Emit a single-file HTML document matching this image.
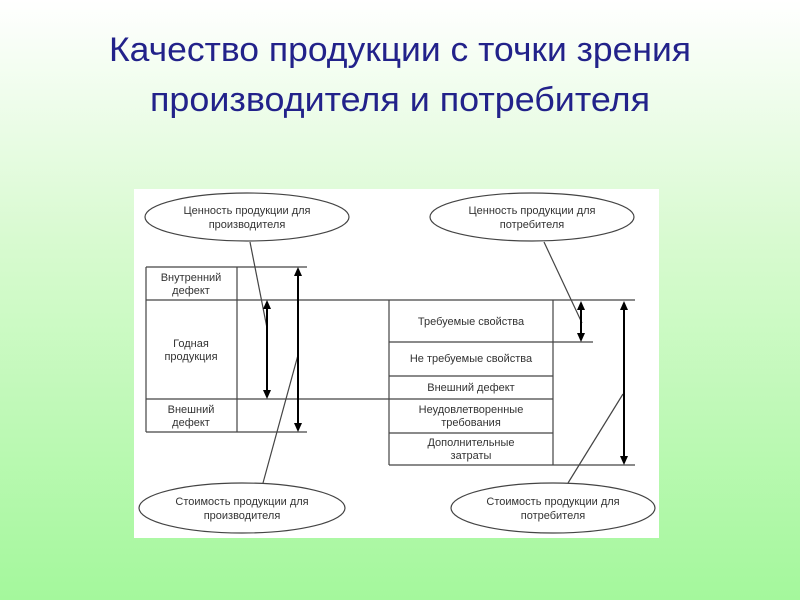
<!DOCTYPE html>
<html><head><meta charset="utf-8"><style>
html,body{margin:0;padding:0;}
body{width:800px;height:600px;background:linear-gradient(#ffffff 0%,#d8fad0 40%,#a4f89c 100%);overflow:hidden;}
svg{display:block}
</style></head><body>
<svg width="800" height="600" viewBox="0 0 800 600" xmlns="http://www.w3.org/2000/svg" font-family="Liberation Sans, sans-serif">
<text x="400" y="61" text-anchor="middle" font-size="34" fill="#22228a" textLength="582" lengthAdjust="spacingAndGlyphs">Качество продукции с точки зрения</text>
<text x="400" y="111" text-anchor="middle" font-size="34" fill="#22228a" textLength="500" lengthAdjust="spacingAndGlyphs">производителя и потребителя</text>
<rect x="134" y="189" width="525" height="349" fill="#fff"/>
<g stroke="#444" stroke-width="1.2" fill="none">
<ellipse cx="247" cy="217" rx="102" ry="24"/>
<ellipse cx="532" cy="217" rx="102" ry="24"/>
<ellipse cx="242" cy="508" rx="103" ry="25"/>
<ellipse cx="553" cy="508" rx="102" ry="25"/>
<line x1="146" y1="267" x2="307" y2="267"/>
<line x1="146" y1="300" x2="635" y2="300"/>
<line x1="146" y1="399" x2="553" y2="399"/>
<line x1="146" y1="432" x2="307" y2="432"/>
<line x1="146" y1="267" x2="146" y2="432"/>
<line x1="237" y1="267" x2="237" y2="432"/>
<line x1="389" y1="300" x2="389" y2="465"/>
<line x1="553" y1="300" x2="553" y2="465"/>
<line x1="389" y1="342" x2="593" y2="342"/>
<line x1="389" y1="376" x2="553" y2="376"/>
<line x1="389" y1="433" x2="553" y2="433"/>
<line x1="389" y1="465" x2="635" y2="465"/>
<line x1="250" y1="242" x2="267" y2="328"/>
<line x1="298" y1="355" x2="263" y2="483"/>
<line x1="544" y1="242" x2="582" y2="323"/>
<line x1="623" y1="394" x2="568" y2="483"/>
</g>
<g stroke="#000" stroke-width="2">
<line x1="267" y1="306" x2="267" y2="393"/>
<line x1="298" y1="273" x2="298" y2="426"/>
<line x1="581" y1="307" x2="581" y2="336"/>
<line x1="624" y1="307" x2="624" y2="459"/>
</g>
<g fill="#000">
<polygon points="267,300 263,309 271,309"/><polygon points="267,399 263,390 271,390"/>
<polygon points="298,267 294,276 302,276"/><polygon points="298,432 294,423 302,423"/>
<polygon points="581,301 577,310 585,310"/><polygon points="581,342 577,333 585,333"/>
<polygon points="624,301 620,310 628,310"/><polygon points="624,465 620,456 628,456"/>
</g>
<g font-size="11" fill="#333" text-anchor="middle">
<text x="247" y="214">Ценность продукции для</text>
<text x="247" y="228">производителя</text>
<text x="532" y="214">Ценность продукции для</text>
<text x="532" y="228">потребителя</text>
<text x="242" y="505">Стоимость продукции для</text>
<text x="242" y="519">производителя</text>
<text x="553" y="505">Стоимость продукции для</text>
<text x="553" y="519">потребителя</text>
<text x="191" y="281">Внутренний</text>
<text x="191" y="294">дефект</text>
<text x="191" y="347">Годная</text>
<text x="191" y="360">продукция</text>
<text x="191" y="413">Внешний</text>
<text x="191" y="426">дефект</text>
<text x="471" y="325">Требуемые свойства</text>
<text x="471" y="362">Не требуемые свойства</text>
<text x="471" y="391">Внешний дефект</text>
<text x="471" y="413">Неудовлетворенные</text>
<text x="471" y="426">требования</text>
<text x="471" y="446">Дополнительные</text>
<text x="471" y="459">затраты</text>
</g>
</svg>
</body></html>
